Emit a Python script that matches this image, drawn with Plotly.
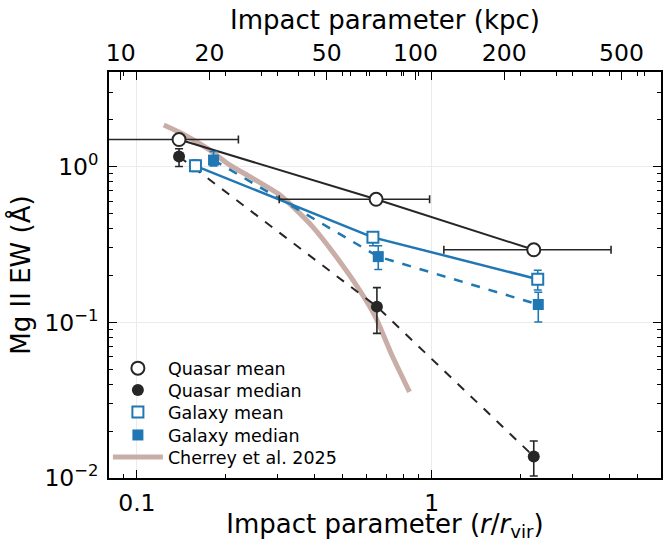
import math
import plotly.graph_objects as go

# ---------------- data ----------------
RVIR_KPC = 113.5  # conversion used for the top axis

qmean_x = [0.139, 0.648, 2.22]
qmean_y = [1.49, 0.616, 0.292]
qmean_xlo = [0.070, 0.304, 1.10]
qmean_xhi = [0.221, 0.984, 4.06]
qmean_ylo = [1.42, 0.59, 0.278]
qmean_yhi = [1.56, 0.64, 0.306]

qmed_x = [0.139, 0.652, 2.22]
qmed_y = [1.16, 0.126, 0.01375]
qmed_ylo = [1.00, 0.0848, 0.0103]
qmed_yhi = [1.30, 0.167, 0.0173]

gmean_x = [0.158, 0.632, 2.29]
gmean_y = [1.01, 0.351, 0.189]
gmean_ylo = [0.93, 0.31, 0.161]
gmean_yhi = [1.10, 0.38, 0.216]

gmed_x = [0.182, 0.659, 2.30]
gmed_y = [1.10, 0.264, 0.130]
gmed_ylo = [1.01, 0.218, 0.1005]
gmed_yhi = [1.25, 0.31, 0.156]

cherrey_x = [0.1234, 0.1453, 0.1764, 0.2062, 0.2408, 0.3041, 0.3463, 0.393,
             0.4727, 0.5665, 0.645, 0.734, 0.841]
cherrey_y = [1.846, 1.594, 1.278, 1.025, 0.863, 0.660, 0.529, 0.414,
             0.266, 0.163, 0.108, 0.0612, 0.0357]

x_ticks = [0.1, 1]
x_ticktext = ["0.1", "1"]
y_ticks = [0.01, 0.1, 1]
y_ticktext = ["10<sup>−2</sup>", "10<sup>−1</sup>", "10<sup>0</sup>"]
kpc_ticks = [10, 20, 50, 100, 200, 500]
kpc_minor = [8, 9, 30, 40, 60, 70, 80, 90, 300, 400, 600, 700]

# ---------------- style ----------------
DARK = "#262626"
BLUE = "#1f77b4"
BROWN = "#c9ada7"
FONT = "DejaVu Sans"


def errs(v, lo, hi):
    return [h - a for a, h in zip(v, hi)], [a - l for a, l in zip(v, lo)]


fig = go.Figure()

# Cherrey curve (drawn first, legend last)
fig.add_trace(go.Scatter(x=cherrey_x, y=cherrey_y, mode="lines",
                         line=dict(color=BROWN, width=5, shape="spline", smoothing=0.6),
                         name="Cherrey et al. 2025", legend="legend5"))

# connecting lines
fig.add_trace(go.Scatter(x=qmean_x, y=qmean_y, mode="lines", showlegend=False,
                         line=dict(color=DARK, width=2)))
fig.add_trace(go.Scatter(x=qmed_x, y=qmed_y, mode="lines", showlegend=False,
                         line=dict(color=DARK, width=2, dash="dash")))
fig.add_trace(go.Scatter(x=gmean_x, y=gmean_y, mode="lines", showlegend=False,
                         line=dict(color=BLUE, width=2.5)))
fig.add_trace(go.Scatter(x=gmed_x, y=gmed_y, mode="lines", showlegend=False,
                         line=dict(color=BLUE, width=2.5, dash="dash")))

# markers with error bars
up, dn = errs(qmean_y, qmean_ylo, qmean_yhi)
xup, xdn = errs(qmean_x, qmean_xlo, qmean_xhi)
fig.add_trace(go.Scatter(
    x=qmean_x, y=qmean_y, mode="markers", name="Quasar mean", legend="legend",
    marker=dict(symbol="circle", size=13, color="white", line=dict(color=DARK, width=2)),
    error_x=dict(type="data", array=xup, arrayminus=xdn, color=DARK, thickness=1.6, width=4),
    error_y=dict(type="data", array=up, arrayminus=dn, color=DARK, thickness=1.6, width=4)))

up, dn = errs(qmed_y, qmed_ylo, qmed_yhi)
fig.add_trace(go.Scatter(
    x=qmed_x, y=qmed_y, mode="markers", name="Quasar median", legend="legend2",
    marker=dict(symbol="circle", size=12, color=DARK),
    error_y=dict(type="data", array=up, arrayminus=dn, color=DARK, thickness=1.6, width=4)))

up, dn = errs(gmean_y, gmean_ylo, gmean_yhi)
fig.add_trace(go.Scatter(
    x=gmean_x, y=gmean_y, mode="markers", name="Galaxy mean", legend="legend3",
    marker=dict(symbol="square", size=11, color="white", line=dict(color=BLUE, width=2)),
    error_y=dict(type="data", array=up, arrayminus=dn, color=BLUE, thickness=1.6, width=4)))

up, dn = errs(gmed_y, gmed_ylo, gmed_yhi)
fig.add_trace(go.Scatter(
    x=gmed_x, y=gmed_y, mode="markers", name="Galaxy median", legend="legend4",
    marker=dict(symbol="square", size=11, color=BLUE),
    error_y=dict(type="data", array=up, arrayminus=dn, color=BLUE, thickness=1.6, width=4)))

# invisible trace to anchor the top (kpc) axis
fig.add_trace(go.Scatter(x=[v * RVIR_KPC for v in qmean_x], y=qmean_y, xaxis="x2",
                         mode="markers", marker=dict(opacity=0), showlegend=False,
                         hoverinfo="skip"))

XMIN, XMAX = -1.0946, 0.778
YMIN, YMAX = -2.0, 0.607
shift = math.log10(RVIR_KPC)

x_minor = [0.08, 0.09] + [i / 10 for i in range(2, 10)] + [2, 3, 4, 5, 6]
y_minor = [i / 1000 for i in range(2, 10)] + [i / 100 for i in range(2, 10)] + \
          [i / 10 for i in range(2, 10)] + [2, 3, 4]

axis_common = dict(showline=True, linecolor="black", linewidth=1.5,
                   ticks="inside", ticklen=8, tickwidth=1.3, tickcolor="black",
                   tickfont=dict(family=FONT, size=23.5, color="black"),
                   zeroline=False)


def leg(ypos, dx=0.0):
    return dict(x=-0.002 + dx, y=ypos, xanchor="left", yanchor="middle",
                bgcolor="rgba(255,255,255,0)", borderwidth=0,
                font=dict(family=FONT, size=17.5, color="black"),
                itemwidth=50)


fig.update_layout(
    width=664, height=542,
    margin=dict(l=109, r=1, t=72, b=63),
    plot_bgcolor="white", paper_bgcolor="white",
    font=dict(family=FONT, color="black"),
    xaxis=dict(type="log", range=[XMIN, XMAX], mirror="ticks",
               tickmode="array", tickvals=x_ticks, ticktext=x_ticktext,
               showgrid=True, gridcolor="#ebebeb", gridwidth=1,
               ticklabelstandoff=3,
               minor=dict(tickvals=x_minor, ticks="inside", ticklen=4,
                          tickwidth=1, tickcolor="black", showgrid=False),
               title=dict(text="Impact parameter (<i>r</i>/<i>r</i><sub>vir</sub>)",
                          font=dict(family=FONT, size=26), standoff=6),
               **axis_common),
    xaxis2=dict(type="log", overlaying="x", side="top",
                range=[XMIN + shift, XMAX + shift],
                tickmode="array", tickvals=kpc_ticks,
                ticktext=[str(v) for v in kpc_ticks], showgrid=False,
                minor=dict(tickvals=kpc_minor, ticks="inside", ticklen=4,
                           tickwidth=1, tickcolor="black", showgrid=False),
                title=dict(text="Impact parameter (kpc)",
                           font=dict(family=FONT, size=26), standoff=2),
                **axis_common),
    yaxis=dict(type="log", range=[YMIN, YMAX], mirror="ticks",
               tickmode="array", tickvals=y_ticks, ticktext=y_ticktext,
               showgrid=True, gridcolor="#ebebeb", gridwidth=1,
               ticklabelstandoff=4,
               minor=dict(tickvals=y_minor, ticks="inside", ticklen=4,
                          tickwidth=1, tickcolor="black", showgrid=False),
               title=dict(text="Mg II EW (Å)",
                          font=dict(family=FONT, size=26), standoff=6),
               **axis_common),
    legend=leg(0.2703),
    legend2=leg(0.2162),
    legend3=leg(0.1622),
    legend4=leg(0.1057),
    legend5=leg(0.0516),
    showlegend=True,
)

fig.write_html("out.html")
